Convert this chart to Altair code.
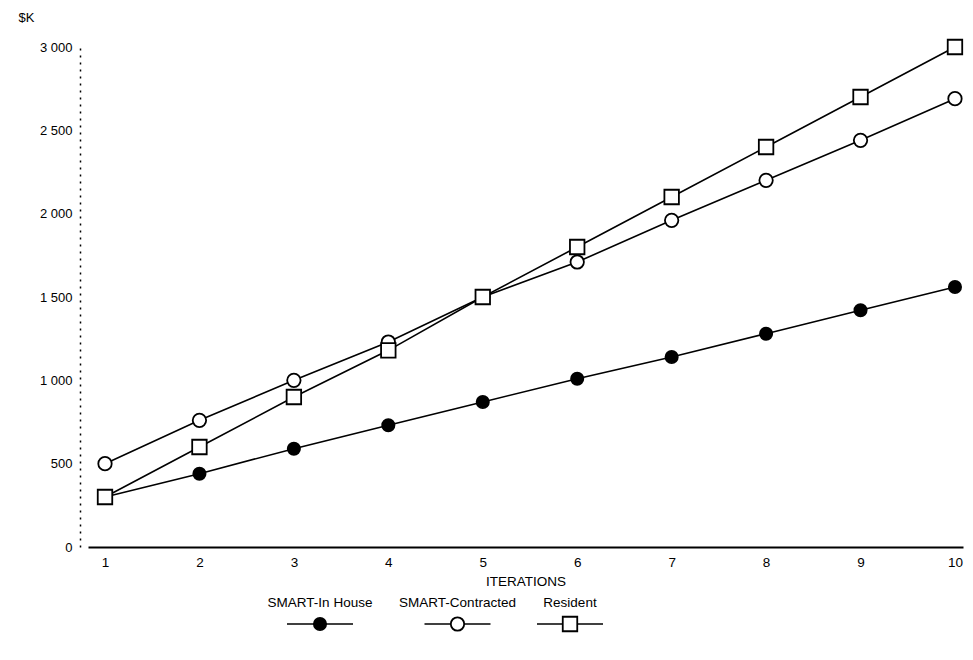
import altair as alt
import pandas as pd

# ---- data ----
series = ["SMART-In House", "SMART-Contracted", "Resident"]
iterations = [1, 2, 3, 4, 5, 6, 7, 8, 9, 10]
in_house = [300, 440, 590, 730, 870, 1010, 1140, 1280, 1420, 1560]
contracted = [500, 760, 1000, 1230, 1500, 1710, 1960, 2200, 2440, 2690]
resident = [300, 600, 900, 1180, 1500, 1800, 2100, 2400, 2700, 3000]
y_ticks = [0, 500, 1000, 1500, 2000, 2500, 3000]

# ---- styling / layout ----
FONT = "Liberation Sans"
shapes = ["circle", "circle", "square"]
fills = ["black", "white", "white"]
sizes = [150, 210, 240]
legend_slot = [0, 0.55, 1]      # relative legend entry positions
legend_px = [232, 482]          # pixel range of legend entry centres
legend_text_y = 556
legend_sym_y = 577

rows = []
for name, vals in zip(series, [in_house, contracted, resident]):
    for it, v in zip(iterations, vals):
        rows.append({"series": name, "iteration": it, "cost": v})
df = pd.DataFrame(rows)
leg = pd.DataFrame({"series": series, "slot": legend_slot})

x_scale = alt.Scale(domain=[0.82, 10.085], nice=False, zero=False)
y_scale = alt.Scale(domain=[0, 3000], nice=False)

x_enc = alt.X("iteration:Q", scale=x_scale,
              axis=alt.Axis(values=iterations, title="ITERATIONS", grid=False,
                            ticks=False, domainColor="black", domainWidth=2,
                            labelFont=FONT, labelFontSize=13.5, labelColor="black",
                            labelPadding=8, titleFont=FONT, titleFontSize=13.5,
                            titleFontWeight="normal", titleColor="black",
                            titlePadding=6))
x_noaxis = alt.X("iteration:Q", scale=x_scale, axis=None)
y_axis = alt.Axis(values=y_ticks, grid=False, ticks=False, offset=8,
                  domainColor="black", domainDash=[2, 5], domainWidth=1.5,
                  labelExpr="replace(format(datum.value, ','), ',', ' ')",
                  labelFont=FONT, labelFontSize=13, labelColor="black",
                  labelPadding=8,
                  title="$K", titleAngle=0, titleAlign="left",
                  titleBaseline="middle", titleX=-62, titleY=-30,
                  titleFont=FONT, titleFontSize=13,
                  titleFontWeight="normal", titleColor="black")
y_enc = alt.Y("cost:Q", scale=y_scale, axis=y_axis)

shape_s = alt.Scale(domain=series, range=shapes)
fill_s = alt.Scale(domain=series, range=fills)
size_s = alt.Scale(domain=series, range=sizes)

lines = alt.Chart(df).mark_line(color="black", strokeWidth=1.6).encode(
    x=x_enc, y=y_enc, detail="series:N")

points = alt.Chart(df).mark_point(stroke="black", strokeWidth=1.8, opacity=1,
                                  fillOpacity=1).encode(
    x=x_noaxis, y=y_enc,
    shape=alt.Shape("series:N", scale=shape_s, legend=None),
    fill=alt.Fill("series:N", scale=fill_s, legend=None),
    size=alt.Size("series:N", scale=size_s, legend=None))

leg_x = alt.X("slot:Q", scale=alt.Scale(domain=[0, 1], range=legend_px,
                                         nice=False, zero=False), axis=None)

leg_text = alt.Chart(leg).mark_text(font=FONT, fontSize=13.5, color="black",
                                    baseline="middle").encode(
    x=leg_x, y=alt.value(legend_text_y), text="series:N")

leg_line = alt.Chart(leg).mark_point(shape="M-1,0L1,0", size=4356, filled=False,
                                     stroke="black", strokeWidth=1.6,
                                     opacity=1).encode(
    x=leg_x, y=alt.value(legend_sym_y))

leg_sym = alt.Chart(leg).mark_point(stroke="black", strokeWidth=1.8, opacity=1,
                                    fillOpacity=1).encode(
    x=leg_x, y=alt.value(legend_sym_y),
    shape=alt.Shape("series:N", scale=shape_s, legend=None),
    fill=alt.Fill("series:N", scale=fill_s, legend=None),
    size=alt.Size("series:N", scale=size_s, legend=None))

chart = alt.layer(lines, points, leg_text, leg_line, leg_sym).resolve_scale(
    x="independent"
).properties(
    width=875, height=500,
    background="white",
    autosize=alt.AutoSizeParams(type="none"),
    padding={"left": 80, "top": 39, "right": 2, "bottom": 95},
).configure_view(stroke=None)

chart.save("out.html", embed_options={"renderer": "svg", "actions": False})
